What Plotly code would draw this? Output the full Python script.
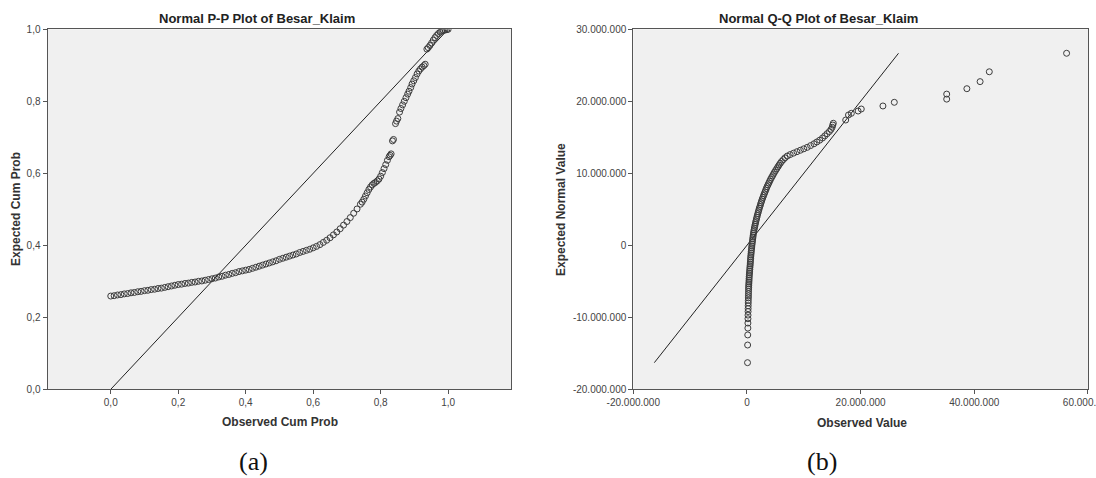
import plotly.graph_objects as go

# ---------------- data ----------------
pp_observed = [0.00, 0.01, 0.02, 0.03, 0.04, 0.05, 0.06, 0.07, 0.08, 0.09,
               0.10, 0.11, 0.12, 0.13, 0.14, 0.15, 0.16, 0.17, 0.18, 0.19,
               0.20, 0.21, 0.22, 0.23, 0.24, 0.25, 0.26, 0.27, 0.28, 0.29,
               0.30, 0.31, 0.32, 0.33, 0.34, 0.35, 0.36, 0.37, 0.38, 0.39,
               0.40, 0.41, 0.42, 0.43, 0.44, 0.45, 0.46, 0.47, 0.48, 0.49,
               0.50, 0.51, 0.52, 0.53, 0.54, 0.55, 0.56, 0.57, 0.58, 0.59,
               0.60, 0.61, 0.62, 0.63, 0.64, 0.65, 0.66, 0.67, 0.68, 0.69,
               0.70, 0.71, 0.72, 0.73, 0.74, 0.745, 0.75, 0.755, 0.76, 0.765,
               0.77, 0.775, 0.78, 0.785, 0.79, 0.795, 0.80, 0.805, 0.81, 0.815,
               0.82, 0.825, 0.828, 0.831, 0.835, 0.838, 0.844, 0.847, 0.851, 0.856,
               0.860, 0.865, 0.870, 0.875, 0.880, 0.884, 0.889, 0.893, 0.898, 0.903,
               0.908, 0.913, 0.918, 0.923, 0.928, 0.932, 0.937, 0.941, 0.946, 0.951,
               0.956, 0.961, 0.966, 0.971, 0.976, 0.981, 0.986, 0.991, 0.996, 1.000]
pp_expected = [0.259, 0.260, 0.262, 0.263, 0.265, 0.266, 0.268, 0.269, 0.271, 0.272,
               0.274, 0.275, 0.277, 0.278, 0.280, 0.281, 0.283, 0.285, 0.287, 0.289,
               0.291, 0.292, 0.294, 0.295, 0.297, 0.298, 0.300, 0.301, 0.303, 0.305,
               0.307, 0.309, 0.312, 0.314, 0.317, 0.319, 0.322, 0.324, 0.327, 0.329,
               0.331, 0.333, 0.336, 0.339, 0.342, 0.345, 0.348, 0.351, 0.354, 0.357,
               0.361, 0.364, 0.367, 0.370, 0.373, 0.376, 0.380, 0.383, 0.386, 0.389,
               0.393, 0.397, 0.402, 0.408, 0.414, 0.421, 0.429, 0.437, 0.446, 0.456,
               0.466, 0.477, 0.489, 0.501, 0.514, 0.520, 0.528, 0.537, 0.546, 0.555,
               0.562, 0.568, 0.572, 0.575, 0.579, 0.584, 0.592, 0.602, 0.613, 0.624,
               0.636, 0.646, 0.650, 0.654, 0.690, 0.694, 0.738, 0.745, 0.752, 0.770,
               0.780, 0.790, 0.800, 0.810, 0.820, 0.828, 0.838, 0.848, 0.857, 0.866,
               0.876, 0.884, 0.890, 0.895, 0.899, 0.903, 0.945, 0.949, 0.955, 0.962,
               0.970, 0.977, 0.983, 0.988, 0.992, 0.995, 0.997, 0.998, 0.999, 1.000]
pp_reference = [0.0, 1.0]

# Q-Q plot, values in millions of rupiah
qq_observed_m = [0.10, 0.12, 0.14, 0.16, 0.17, 0.18, 0.19, 0.20, 0.21, 0.22,
                 0.23, 0.24, 0.25, 0.26, 0.27, 0.28, 0.29, 0.30, 0.31, 0.33,
                 0.35, 0.37, 0.38, 0.40, 0.42, 0.45, 0.47, 0.50, 0.52, 0.55,
                 0.57, 0.60, 0.62, 0.65, 0.67, 0.70, 0.73, 0.76, 0.79, 0.83,
                 0.86, 0.90, 0.94, 0.98, 1.02, 1.06, 1.10, 1.15, 1.20, 1.25,
                 1.31, 1.38, 1.45, 1.52, 1.59, 1.67, 1.75, 1.83, 1.91, 2.00,
                 2.09, 2.18, 2.28, 2.38, 2.48, 2.58, 2.69, 2.80, 2.92, 3.05,
                 3.17, 3.30, 3.42, 3.55, 3.70, 3.85, 4.00, 4.15, 4.32, 4.50,
                 4.67, 4.85, 5.05, 5.25, 5.45, 5.65, 5.87, 6.10, 6.40, 6.70,
                 7.10, 7.60, 8.20, 8.80, 9.40, 10.00, 10.60, 11.20, 11.80, 12.30,
                 12.80, 13.30, 13.70, 14.10, 14.50, 14.80, 15.00, 15.10, 15.20, 17.38,
                 17.87, 18.37, 19.56, 20.12, 23.93, 25.93, 35.15, 35.15, 38.70, 41.03,
                 42.65, 56.25]
qq_expected_m = [-16.30, -13.85, -12.45, -11.50, -10.80, -10.20, -9.70, -9.20, -8.80, -8.40,
                 -8.00, -7.65, -7.30, -7.00, -6.70, -6.40, -6.10, -5.85, -5.60, -5.35,
                 -5.10, -4.85, -4.60, -4.35, -4.10, -3.85, -3.60, -3.35, -3.10, -2.85,
                 -2.60, -2.35, -2.10, -1.85, -1.60, -1.35, -1.10, -0.85, -0.60, -0.35,
                 -0.10, 0.15, 0.40, 0.65, 0.90, 1.15, 1.40, 1.65, 1.90, 2.15,
                 2.40, 2.65, 2.90, 3.15, 3.40, 3.65, 3.90, 4.15, 4.40, 4.65,
                 4.90, 5.15, 5.40, 5.65, 5.90, 6.15, 6.40, 6.65, 6.90, 7.15,
                 7.40, 7.65, 7.90, 8.15, 8.40, 8.65, 8.90, 9.15, 9.40, 9.65,
                 9.90, 10.15, 10.40, 10.65, 10.90, 11.15, 11.40, 11.65, 11.90, 12.15,
                 12.40, 12.60, 12.80, 13.00, 13.20, 13.40, 13.60, 13.85, 14.10, 14.35,
                 14.60, 14.90, 15.20, 15.50, 15.80, 16.10, 16.40, 16.70, 16.95, 17.40,
                 18.10, 18.33, 18.65, 18.93, 19.35, 19.86, 20.30, 21.00, 21.75, 22.73,
                 24.10, 26.67]

pp_ticks = [0.0, 0.2, 0.4, 0.6, 0.8, 1.0]
pp_ticktext = ["0,0", "0,2", "0,4", "0,6", "0,8", "1,0"]
qq_xticks = [-20e6, 0, 20e6, 40e6, 60e6]
qq_xticktext = ["-20.000.000", "0", "20.000.000", "40.000.000", "60.000.000"]
qq_yticks = [-20e6, -10e6, 0, 10e6, 20e6, 30e6]
qq_yticktext = ["-20.000.000", "-10.000.000", "0", "10.000.000", "20.000.000", "30.000.000"]

# ---------------- figure ----------------
W, H = 1096, 478
qq_x = [v * 1e6 for v in qq_observed_m]
qq_y = [v * 1e6 for v in qq_expected_m]
qq_ref = [min(qq_y), max(qq_y)]

marker = dict(symbol="circle-open", size=6, color="#3c3c3c", line=dict(width=1, color="#3c3c3c"))

fig = go.Figure()
fig.add_trace(go.Scatter(x=pp_reference, y=pp_reference, mode="lines",
                         line=dict(color="#222222", width=1), xaxis="x", yaxis="y",
                         hoverinfo="skip"))
fig.add_trace(go.Scatter(x=pp_observed, y=pp_expected, mode="markers", marker=marker,
                         xaxis="x", yaxis="y"))
fig.add_trace(go.Scatter(x=qq_ref, y=qq_ref, mode="lines",
                         line=dict(color="#222222", width=1), xaxis="x2", yaxis="y2",
                         hoverinfo="skip"))
fig.add_trace(go.Scatter(x=qq_x, y=qq_y, mode="markers", marker=marker,
                         xaxis="x2", yaxis="y2"))

def px(x):
    return x / W

def py(y):
    return 1 - y / H

axis_common = dict(showgrid=False, zeroline=False, showline=True, mirror=True,
                   linecolor="#555555", linewidth=1, ticks="outside", ticklen=4,
                   tickcolor="#555555", tickwidth=1, automargin=False,
                   ticklabeloverflow="allow",
                   tickfont=dict(family="Liberation Sans, Arial, sans-serif", size=10, color="#444444"))

ydom = [py(389.3), py(29.3)]
fig.update_layout(
    template="none",
    width=W, height=H, margin=dict(l=0, r=0, t=0, b=0, autoexpand=False),
    paper_bgcolor="white", plot_bgcolor="#f0f0f0", showlegend=False,
    xaxis=dict(domain=[px(47.5), px(511.4)], range=[-0.1875, 1.1875], anchor="y",
               tickvals=pp_ticks, ticktext=pp_ticktext, **axis_common),
    yaxis=dict(domain=ydom, range=[0, 1], anchor="x",
               tickvals=pp_ticks, ticktext=pp_ticktext, **axis_common),
    xaxis2=dict(domain=[px(633.3), px(1087.9)], range=[-20e6, 60e6], anchor="y2",
                tickvals=qq_xticks, ticktext=qq_xticktext, **axis_common),
    yaxis2=dict(domain=ydom, range=[-20e6, 30e6], anchor="x2",
                tickvals=qq_yticks, ticktext=qq_yticktext, **axis_common),
)

sans = "Liberation Sans, Arial, sans-serif"
ann = [
    dict(text="<b>Normal P-P Plot of Besar_Klaim</b>", x=px(257), y=py(18), size=13, color="#222222"),
    dict(text="<b>Normal Q-Q Plot of Besar_Klaim</b>", x=px(818), y=py(18), size=13, color="#222222"),
    dict(text="<b>Observed Cum Prob</b>", x=px(279.5), y=py(422), size=12, color="#333333"),
    dict(text="<b>Observed Value</b>", x=px(862), y=py(423), size=12, color="#333333"),
    dict(text="<b>Expected Cum Prob</b>", x=px(15.5), y=py(209.5), size=12, color="#333333", angle=-90),
    dict(text="<b>Expected Normal Value</b>", x=px(561), y=py(210), size=12, color="#333333", angle=-90),
]
for a in ann:
    fig.add_annotation(text=a["text"], x=a["x"], y=a["y"], xref="paper", yref="paper",
                       xanchor="center", yanchor="middle", showarrow=False,
                       textangle=a.get("angle", 0),
                       font=dict(family=sans, size=a["size"], color=a["color"]))

for lab, xc in (("(a)", 253.6), ("(b)", 822)):
    fig.add_annotation(text=lab, x=px(xc), y=py(461), xref="paper", yref="paper",
                       xanchor="center", yanchor="middle", showarrow=False,
                       font=dict(family="Liberation Serif, Times New Roman, serif", size=26, color="#111111"))

fig.write_html("out.html")
